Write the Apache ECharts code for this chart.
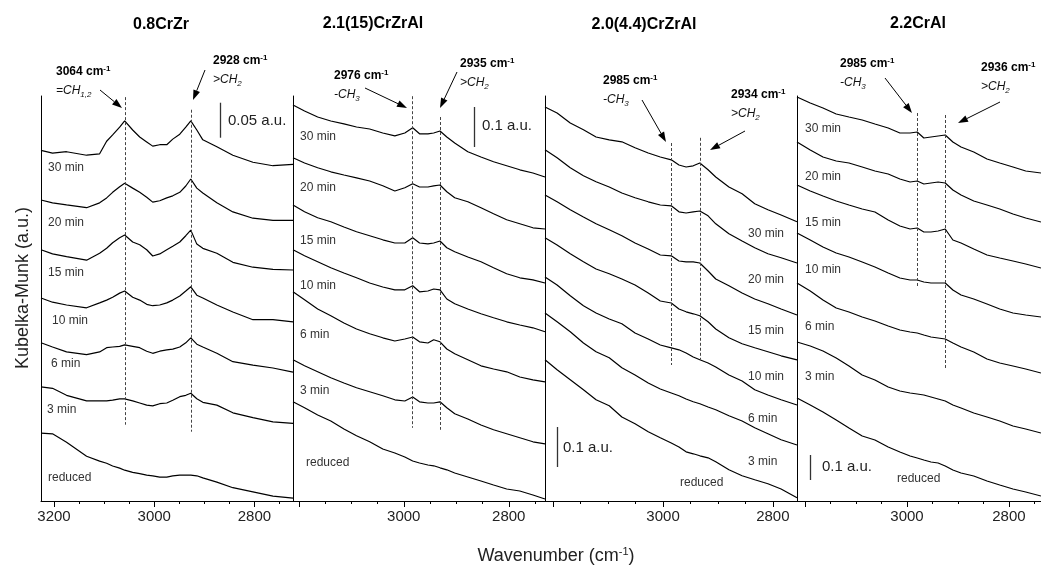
<!DOCTYPE html>
<html>
<head>
<meta charset="utf-8">
<title>DRIFTS spectra</title>
<script src="https://cdn.jsdelivr.net/npm/echarts@6/dist/echarts.min.js"></script>
<style>
  html, body { margin: 0; padding: 0; background: #fff; }
  #chart { width: 1041px; height: 568px; }
</style>
</head>
<body>
<div id="chart"></div>
<script>
// wavenumber in cm-1, Kubelka-Munk in a.u. (spectra stacked with offsets as in the figure)
const panelTitles = ['0.8CrZr', '2.1(15)CrZrAl', '2.0(4.4)CrZrAl', '2.2CrAl'];
const timeLabels = ['30 min', '20 min', '15 min', '10 min', '6 min', '3 min', 'reduced'];
const majorTicks = [3200, 3000, 2800];
const minorTicks = [3150, 3100, 3050, 2950, 2900, 2850, 2750];
const scaleBarSize = [0.05, 0.1, 0.1, 0.1];

// 0.8CrZr
const crzrWn = [3226, 3203, 3175, 3135, 3109, 3095, 3083, 3069, 3059, 3043, 3029, 3015, 3003, 2989, 2975, 2963, 2949, 2937, 2927, 2915, 2903, 2875, 2843, 2803, 2763, 2723];
const crzr30 = [0.501, 0.497, 0.499, 0.494, 0.496, 0.514, 0.523, 0.534, 0.543, 0.530, 0.520, 0.513, 0.507, 0.509, 0.509, 0.517, 0.524, 0.534, 0.543, 0.530, 0.516, 0.506, 0.494, 0.484, 0.479, 0.481];
const crzr20 = [0.430, 0.426, 0.423, 0.419, 0.426, 0.433, 0.441, 0.449, 0.454, 0.447, 0.441, 0.434, 0.427, 0.429, 0.433, 0.436, 0.441, 0.450, 0.460, 0.447, 0.440, 0.426, 0.413, 0.404, 0.401, 0.401];
const crzr15 = [0.359, 0.353, 0.349, 0.344, 0.354, 0.361, 0.369, 0.376, 0.380, 0.370, 0.366, 0.359, 0.350, 0.353, 0.359, 0.364, 0.370, 0.379, 0.387, 0.367, 0.361, 0.354, 0.341, 0.334, 0.331, 0.330];
const crzr10 = [0.290, 0.284, 0.280, 0.276, 0.283, 0.287, 0.291, 0.297, 0.300, 0.291, 0.287, 0.281, 0.279, 0.280, 0.283, 0.287, 0.293, 0.300, 0.306, 0.294, 0.290, 0.280, 0.270, 0.259, 0.259, 0.256];
const crzr6 = [0.226, 0.220, 0.213, 0.209, 0.213, 0.219, 0.220, 0.221, 0.223, 0.221, 0.219, 0.214, 0.211, 0.214, 0.216, 0.217, 0.220, 0.226, 0.233, 0.224, 0.220, 0.211, 0.199, 0.194, 0.190, 0.184];
const crzr3 = [0.163, 0.161, 0.151, 0.143, 0.143, 0.143, 0.144, 0.146, 0.146, 0.143, 0.140, 0.137, 0.136, 0.139, 0.140, 0.144, 0.149, 0.151, 0.154, 0.146, 0.141, 0.137, 0.126, 0.119, 0.113, 0.111];
const crzrRed = [0.097, 0.096, 0.084, 0.064, 0.057, 0.054, 0.050, 0.047, 0.044, 0.041, 0.039, 0.037, 0.036, 0.034, 0.034, 0.036, 0.037, 0.037, 0.037, 0.036, 0.033, 0.027, 0.019, 0.013, 0.007, 0.004];
const crzrPeakWn = [3058, 2927];
const crzrPeakTop = [0.577, 0.559];
const crzrPeakBottom = [0.109, 0.099];

// 2.1(15)CrZrAl
const cza15Wn = [3211, 3189, 3164, 3139, 3114, 3090, 3065, 3040, 3017, 2998, 2983, 2970, 2954, 2943, 2931, 2918, 2903, 2878, 2853, 2829, 2804, 2779, 2754, 2731];
const cza15_30 = [0.990, 0.975, 0.960, 0.950, 0.943, 0.935, 0.930, 0.920, 0.913, 0.920, 0.933, 0.918, 0.918, 0.920, 0.925, 0.910, 0.895, 0.873, 0.860, 0.848, 0.838, 0.828, 0.820, 0.810];
const cza15_20 = [0.858, 0.845, 0.833, 0.823, 0.815, 0.808, 0.800, 0.788, 0.775, 0.783, 0.793, 0.785, 0.785, 0.788, 0.790, 0.773, 0.758, 0.748, 0.733, 0.718, 0.703, 0.693, 0.683, 0.680];
const cza15_15 = [0.740, 0.723, 0.708, 0.698, 0.685, 0.673, 0.663, 0.653, 0.645, 0.645, 0.658, 0.645, 0.643, 0.645, 0.650, 0.633, 0.623, 0.610, 0.598, 0.583, 0.568, 0.558, 0.553, 0.545];
const cza15_10 = [0.628, 0.613, 0.598, 0.583, 0.570, 0.558, 0.545, 0.535, 0.528, 0.528, 0.538, 0.523, 0.525, 0.530, 0.528, 0.505, 0.493, 0.480, 0.468, 0.458, 0.448, 0.440, 0.433, 0.423];
const cza15_6 = [0.523, 0.503, 0.480, 0.463, 0.445, 0.430, 0.418, 0.408, 0.400, 0.405, 0.410, 0.398, 0.395, 0.403, 0.398, 0.380, 0.368, 0.353, 0.338, 0.330, 0.323, 0.310, 0.303, 0.298];
const cza15_3 = [0.353, 0.338, 0.323, 0.308, 0.295, 0.283, 0.273, 0.263, 0.253, 0.250, 0.260, 0.248, 0.245, 0.245, 0.248, 0.233, 0.218, 0.205, 0.190, 0.178, 0.168, 0.158, 0.148, 0.143];
const cza15Red = [0.248, 0.233, 0.215, 0.200, 0.180, 0.163, 0.148, 0.130, 0.120, 0.110, 0.100, 0.095, 0.090, 0.088, 0.083, 0.078, 0.070, 0.060, 0.050, 0.040, 0.030, 0.025, 0.015, 0.005];
const cza15PeakWn = [2983, 2931];
const cza15PeakTop = [1.012, 0.960];
const cza15PeakBottom = [0.183, 0.178];

// 2.0(4.4)CrZrAl
const cza44Wn = [3215, 3193, 3169, 3145, 3122, 3098, 3075, 3051, 3027, 3005, 2985, 2971, 2958, 2945, 2933, 2918, 2904, 2880, 2856, 2833, 2809, 2785, 2756];
const cza44_30 = [0.985, 0.970, 0.945, 0.928, 0.910, 0.903, 0.898, 0.883, 0.870, 0.860, 0.853, 0.840, 0.835, 0.838, 0.845, 0.828, 0.810, 0.785, 0.768, 0.743, 0.728, 0.715, 0.698];
const cza44_20 = [0.878, 0.858, 0.833, 0.813, 0.798, 0.785, 0.770, 0.758, 0.748, 0.740, 0.738, 0.723, 0.720, 0.723, 0.725, 0.713, 0.693, 0.668, 0.650, 0.633, 0.618, 0.608, 0.595];
const cza44_15 = [0.765, 0.748, 0.728, 0.710, 0.693, 0.678, 0.663, 0.645, 0.630, 0.615, 0.613, 0.600, 0.598, 0.598, 0.595, 0.575, 0.555, 0.538, 0.520, 0.505, 0.493, 0.480, 0.465];
const cza44_10 = [0.658, 0.640, 0.618, 0.598, 0.580, 0.568, 0.555, 0.540, 0.520, 0.500, 0.495, 0.480, 0.473, 0.468, 0.463, 0.448, 0.430, 0.408, 0.393, 0.383, 0.373, 0.363, 0.353];
const cza44_6 = [0.560, 0.540, 0.513, 0.488, 0.470, 0.455, 0.443, 0.420, 0.405, 0.390, 0.383, 0.378, 0.370, 0.360, 0.353, 0.345, 0.335, 0.315, 0.300, 0.278, 0.265, 0.253, 0.240];
const cza44_3 = [0.470, 0.448, 0.423, 0.395, 0.373, 0.358, 0.333, 0.315, 0.295, 0.280, 0.270, 0.263, 0.255, 0.248, 0.243, 0.235, 0.228, 0.213, 0.200, 0.183, 0.168, 0.153, 0.140];
const cza44Red = [0.353, 0.328, 0.303, 0.278, 0.253, 0.238, 0.210, 0.193, 0.173, 0.158, 0.145, 0.135, 0.123, 0.118, 0.113, 0.108, 0.098, 0.078, 0.063, 0.053, 0.043, 0.030, 0.008];
const cza44PeakWn = [2985, 2933];
const cza44PeakTop = [0.895, 0.908];
const cza44PeakBottom = [0.340, 0.353];

// 2.2CrAl
const craWn = [3216, 3190, 3165, 3139, 3114, 3088, 3063, 3037, 3014, 2994, 2980, 2967, 2953, 2939, 2925, 2910, 2894, 2869, 2843, 2818, 2792, 2767, 2737];
const cra30 = [1.616, 1.592, 1.572, 1.548, 1.536, 1.524, 1.508, 1.492, 1.472, 1.472, 1.476, 1.452, 1.456, 1.460, 1.464, 1.436, 1.416, 1.396, 1.368, 1.352, 1.336, 1.320, 1.312];
const cra20 = [1.436, 1.404, 1.376, 1.360, 1.352, 1.336, 1.320, 1.308, 1.288, 1.276, 1.280, 1.268, 1.272, 1.276, 1.272, 1.244, 1.224, 1.200, 1.184, 1.168, 1.148, 1.132, 1.116];
const cra15 = [1.264, 1.240, 1.220, 1.200, 1.184, 1.168, 1.156, 1.124, 1.100, 1.088, 1.092, 1.076, 1.076, 1.080, 1.088, 1.044, 1.032, 1.008, 0.984, 0.972, 0.960, 0.948, 0.932];
const cra10 = [1.072, 1.044, 1.016, 0.992, 0.976, 0.956, 0.936, 0.912, 0.892, 0.884, 0.884, 0.876, 0.872, 0.872, 0.872, 0.844, 0.824, 0.808, 0.788, 0.768, 0.752, 0.744, 0.736];
const cra6 = [0.872, 0.840, 0.804, 0.772, 0.756, 0.736, 0.720, 0.700, 0.684, 0.676, 0.672, 0.664, 0.656, 0.652, 0.648, 0.632, 0.616, 0.596, 0.568, 0.552, 0.540, 0.528, 0.512];
const cra3 = [0.636, 0.620, 0.600, 0.572, 0.540, 0.504, 0.484, 0.456, 0.440, 0.432, 0.428, 0.424, 0.416, 0.408, 0.400, 0.384, 0.372, 0.352, 0.336, 0.320, 0.300, 0.288, 0.272];
const craRed = [0.412, 0.384, 0.356, 0.324, 0.292, 0.260, 0.244, 0.216, 0.196, 0.180, 0.172, 0.164, 0.156, 0.152, 0.140, 0.124, 0.112, 0.100, 0.080, 0.064, 0.048, 0.036, 0.020];
const craPeakWn = [2980, 2925];
const craPeakTop = [1.552, 1.544];
const craPeakBottom = [0.852, 0.528];

const peakLabels = [['3064', '2928'], ['2976', '2935'], ['2985', '2934'], ['2985', '2936']];
const groupLabels = [[['=CH', '1,2'], ['>CH', '2']], [['-CH', '3'], ['>CH', '2']], [['-CH', '3'], ['>CH', '2']], [['-CH', '3'], ['>CH', '2']]];

// axis extents per panel
const xMin = [2723, 2731, 2756, 2737];
const xMax = [3226, 3211, 3215, 3216];
const yMax = [0.5786, 1.0125, 1.0125, 1.62];
const barWn = [2869, 2865, 3193, 3190];
const barTop = [0.569, 0.985, 0.185, 0.184];

// layout
const FONT = '"Liberation Sans", Arial, Helvetica, sans-serif';
const gridLeft = [41, 293, 545, 797];
const gridWidth = [252, 252, 252, 244];
const GRID_TOP = 96, GRID_BOTTOM = 67;

const panels = [
  { wn: crzrWn, traces: [crzr30, crzr20, crzr15, crzr10, crzr6, crzr3, crzrRed], pw: crzrPeakWn, pt: crzrPeakTop, pb: crzrPeakBottom },
  { wn: cza15Wn, traces: [cza15_30, cza15_20, cza15_15, cza15_10, cza15_6, cza15_3, cza15Red], pw: cza15PeakWn, pt: cza15PeakTop, pb: cza15PeakBottom },
  { wn: cza44Wn, traces: [cza44_30, cza44_20, cza44_15, cza44_10, cza44_6, cza44_3, cza44Red], pw: cza44PeakWn, pt: cza44PeakTop, pb: cza44PeakBottom },
  { wn: craWn, traces: [cra30, cra20, cra15, cra10, cra6, cra3, craRed], pw: craPeakWn, pt: craPeakTop, pb: craPeakBottom }
];

const titlePos = [[161, 25], [373, 24], [644, 25], [918, 24]];
const annoPos = [[[56, 72], [213, 61]], [[334, 76], [460, 64]], [[603, 81], [731, 95]], [[840, 64], [981, 68]]];
const arrowPos = [
  [[100, 90, 122, 108], [205, 70, 193, 100]],
  [[365, 88, 407, 108], [457, 72, 440, 108]],
  [[642, 100, 666, 142], [745, 131, 710, 150]],
  [[885, 78, 912, 113], [1000, 102, 958, 123]]
];
const barTextPos = [[228, 121], [482, 126], [563, 448], [822, 467]];
const traceLabelPos = [
  [[48, 168], [48, 223], [48, 273], [52, 321], [51, 364], [47, 410], [48, 478]],
  [[300, 137], [300, 188], [300, 241], [300, 286], [300, 335], [300, 391], [306, 463]],
  [[748, 234], [748, 280], [748, 331], [748, 377], [748, 419], [748, 462], [680, 483]],
  [[805, 129], [805, 177], [805, 223], [805, 270], [805, 327], [805, 377], [897, 479]]
];

const chart = echarts.init(document.getElementById('chart'));

const grids = [], xAxes = [], yAxes = [], series = [], graphics = [];

panels.forEach((p, i) => {
  const inRange = v => v >= xMin[i] && v <= xMax[i];
  grids.push({ left: gridLeft[i], top: GRID_TOP, width: gridWidth[i], bottom: GRID_BOTTOM, outerBoundsMode: 'none' });
  const base = {
    gridIndex: i, type: 'value', position: 'bottom', inverse: true, min: xMin[i], max: xMax[i],
    splitLine: { show: false }
  };
  xAxes.push(Object.assign({}, base, {
    axisLine: { lineStyle: { color: '#000', width: 1 } },
    axisTick: { customValues: majorTicks.filter(inRange), length: 6, lineStyle: { color: '#000' } },
    axisLabel: {
      customValues: (i === 0 ? majorTicks : majorTicks.slice(1)).filter(inRange),
      formatter: v => String(v),
      color: '#222', fontSize: 15, fontFamily: FONT, margin: 8
    }
  }));
  xAxes.push(Object.assign({}, base, {
    axisLine: { show: false },
    axisTick: { customValues: minorTicks.filter(inRange), length: 3, lineStyle: { color: '#000' } },
    axisLabel: { show: false }
  }));
  yAxes.push({
    gridIndex: i, type: 'value', min: 0, max: yMax[i],
    axisLine: { show: true, lineStyle: { color: '#000', width: 1 } },
    axisTick: { show: false }, axisLabel: { show: false }, splitLine: { show: false }
  });

  p.traces.forEach((tr, k) => {
    const s = {
      type: 'line', xAxisIndex: i * 2, yAxisIndex: i,
      data: p.wn.map((w, j) => [w, tr[j]]),
      symbol: 'none', showSymbol: false, silent: true, animation: false,
      lineStyle: { color: '#000', width: 1.2 }
    };
    if (k === 0) {
      const ml = p.pw.map((w, m) => [
        { coord: [w, p.pt[m]], lineStyle: { type: [3, 2], color: '#444', width: 1 } },
        { coord: [w, p.pb[m]] }
      ]);
      ml.push([
        { coord: [barWn[i], barTop[i]], lineStyle: { type: 'solid', color: '#333', width: 1.3 } },
        { coord: [barWn[i], barTop[i] - scaleBarSize[i]] }
      ]);
      s.markLine = { silent: true, symbol: ['none', 'none'], label: { show: false }, animation: false, data: ml };
    }
    series.push(s);
  });

  // title
  graphics.push({
    type: 'text', x: titlePos[i][0], y: titlePos[i][1],
    style: { text: panelTitles[i], font: 'bold 16px ' + FONT, fill: '#000', align: 'center', verticalAlign: 'middle' }
  });
  // peak annotations
  annoPos[i].forEach((pos, m) => {
    graphics.push({
      type: 'text', x: pos[0], y: pos[1],
      style: {
        text: '{b|' + peakLabels[i][m] + ' cm}{s|-1}',
        align: 'left', verticalAlign: 'middle',
        rich: {
          b: { fontSize: 12, fontWeight: 'bold', fontFamily: FONT, fill: '#000', lineHeight: 14 },
          s: { fontSize: 8, fontWeight: 'bold', fontFamily: FONT, fill: '#000', verticalAlign: 'top', lineHeight: 14 }
        }
      }
    });
    graphics.push({
      type: 'text', x: pos[0], y: pos[1] + 19,
      style: {
        text: '{i|' + groupLabels[i][m][0] + '}{u|' + groupLabels[i][m][1] + '}',
        align: 'left', verticalAlign: 'middle',
        rich: {
          i: { fontSize: 12, fontStyle: 'italic', fontFamily: FONT, fill: '#111', lineHeight: 16 },
          u: { fontSize: 8, fontStyle: 'italic', fontFamily: FONT, fill: '#111', verticalAlign: 'bottom', lineHeight: 16 }
        }
      }
    });
  });
  arrowPos[i].forEach(a => graphics.push(...arrow(a[0], a[1], a[2], a[3])));
  // scale bar text
  graphics.push({
    type: 'text', x: barTextPos[i][0], y: barTextPos[i][1],
    style: { text: scaleBarSize[i] + ' a.u.', font: '15px ' + FONT, fill: '#222', align: 'left', verticalAlign: 'middle' }
  });
  // trace labels
  traceLabelPos[i].forEach((pos, k) => {
    graphics.push({
      type: 'text', x: pos[0], y: pos[1],
      style: { text: timeLabels[k], font: '12px ' + FONT, fill: '#333', align: 'left', verticalAlign: 'middle' }
    });
  });
});

function arrow(x1, y1, x2, y2) {
  const a = Math.atan2(y2 - y1, x2 - x1), L = 10, W = 3.5;
  const bx = x2 - L * Math.cos(a), by = y2 - L * Math.sin(a);
  return [
    { type: 'line', shape: { x1: x1, y1: y1, x2: bx, y2: by }, style: { stroke: '#000', lineWidth: 1 } },
    {
      type: 'polygon',
      shape: { points: [[x2, y2], [bx + W * Math.sin(a), by - W * Math.cos(a)], [bx - W * Math.sin(a), by + W * Math.cos(a)]] },
      style: { fill: '#000' }
    }
  ];
}

// axis names
graphics.push({
  type: 'text', x: 23, y: 288, rotation: Math.PI / 2,
  style: { text: 'Kubelka-Munk (a.u.)', font: '18px ' + FONT, fill: '#222', align: 'center', verticalAlign: 'middle' }
});
graphics.push({
  type: 'text', x: 556, y: 556,
  style: {
    text: '{n|Wavenumber (cm}{s|-1}{n|)}', align: 'center', verticalAlign: 'middle',
    rich: {
      n: { fontSize: 18, fontFamily: FONT, fill: '#222', lineHeight: 20 },
      s: { fontSize: 11, fontFamily: FONT, fill: '#222', verticalAlign: 'top', lineHeight: 20 }
    }
  }
});

chart.setOption({
  backgroundColor: '#fff',
  animation: false,
  grid: grids,
  xAxis: xAxes,
  yAxis: yAxes,
  series: series,
  graphic: { elements: graphics }
});
window.addEventListener('resize', () => chart.resize());
</script>
</body>
</html>
